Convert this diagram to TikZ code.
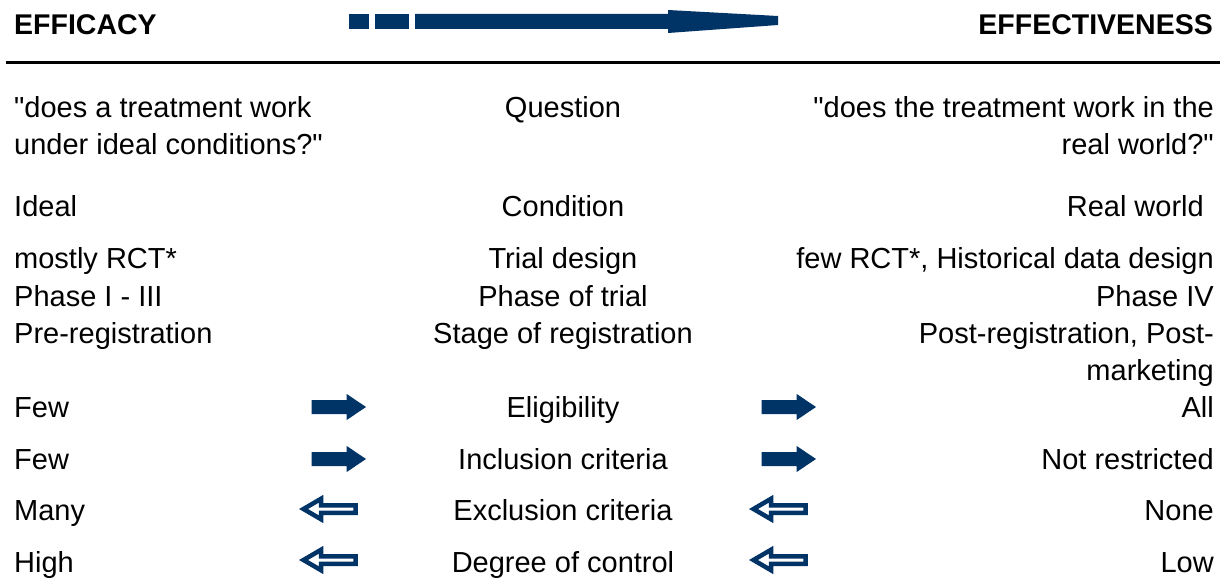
\documentclass[tikz,border=0pt]{standalone}
\usepackage{fontspec}
\setmainfont{Liberation Sans}[Ligatures=TeXOff]
\definecolor{navy}{RGB}{0,51,102}
\begin{document}
\begin{tikzpicture}[x=1pt,y=-1pt,
 txt/.style={inner sep=0pt, font=\fontsize{29}{37}\selectfont},
 hdr/.style={inner sep=0pt, font=\fontsize{28.5}{34}\selectfont\bfseries},
 lft/.style={txt, anchor=base west},
 rgt/.style={txt, anchor=base east},
 mid/.style={txt, anchor=base},
 solidarr/.pic={\fill[navy] (0,-7) -- (35,-7) -- (35,-13) -- (54.3,0) -- (35,13) -- (35,7) -- (0,7) -- cycle;},
 hollowarr/.pic={\filldraw[draw=navy, fill=white, line width=4.5pt, line join=miter]
   (3.5,0) -- (21,-10.2) -- (21,-3.75) -- (55.5,-3.75) -- (55.5,3.75) -- (21,3.75) -- (21,10.2) -- cycle;}]
\useasboundingbox (0,0) rectangle (1226,580);
% header
\node[hdr, anchor=base west] (efficacy) at (14,35) {EFFICACY};
\node[hdr, anchor=base east] (effectiveness) at (1213,35) {EFFECTIVENESS};
\fill[navy] (349,14) rectangle (369,29);
\fill[navy] (375,14) rectangle (409,29);
\fill[navy] (415,14) -- (668,14) -- (668,10) -- (778,16) -- (778,25) -- (668,33) -- (668,29) -- (415,29) -- cycle;
\draw[line width=3.5pt] (6,62.75) -- (1220,62.75);
% question
\node[lft] (q1l) at (14,118) {"does a treatment work};
\node[lft] (q2l) at (14,155) {under ideal conditions?"};
\node[mid] (qm) at (563,118) {Question};
\node[rgt] (q1r) at (1214,118) {"does the treatment work in the};
\node[rgt] (q2r) at (1214,155) {real world?"};
% condition
\node[lft] (cl) at (14,217) {Ideal};
\node[mid] (cm) at (563,217) {Condition};
\node[rgt] (cr) at (1204,217) {Real world};
% trial design
\node[lft] (tl) at (14,269) {mostly RCT*};
\node[mid] (tm) at (563,269) {Trial design};
\node[rgt] (tr) at (1214,269) {few RCT*, Historical data design};
\node[lft] (pl) at (14,306) {Phase I - III};
\node[mid] (pm) at (563,306) {Phase of trial};
\node[rgt] (pr) at (1214,306) {Phase IV};
\node[lft] (sl) at (14,343) {Pre-registration};
\node[mid] (sm) at (563,343) {Stage of registration};
\node[rgt] (sr) at (1214,343) {Post-registration, Post-};
\node[rgt] (sr2) at (1214,380) {marketing};
% criteria
\node[lft] (el) at (14,417) {Few};
\node[mid] (em) at (563,417) {Eligibility};
\node[rgt] (er) at (1214,417) {All};
\node[lft] (il) at (14,469) {Few};
\node[mid] (im) at (563,469) {Inclusion criteria};
\node[rgt] (ir) at (1214,469) {Not restricted};
\node[lft] (xl) at (14,520) {Many};
\node[mid] (xm) at (563,520) {Exclusion criteria};
\node[rgt] (xr) at (1214,520) {None};
\node[lft] (dl) at (14,572) {High};
\node[mid] (dm) at (563,572) {Degree of control};
\node[rgt] (dr) at (1214,572) {Low};
% block arrows
\pic at (311.7,407) {solidarr};
\pic at (311.7,459) {solidarr};
\pic at (761.7,407) {solidarr};
\pic at (761.7,459) {solidarr};
\pic at (300,509) {hollowarr};
\pic at (300,560) {hollowarr};
\pic at (750,509) {hollowarr};
\pic at (750,560) {hollowarr};
\end{tikzpicture}
\end{document}
